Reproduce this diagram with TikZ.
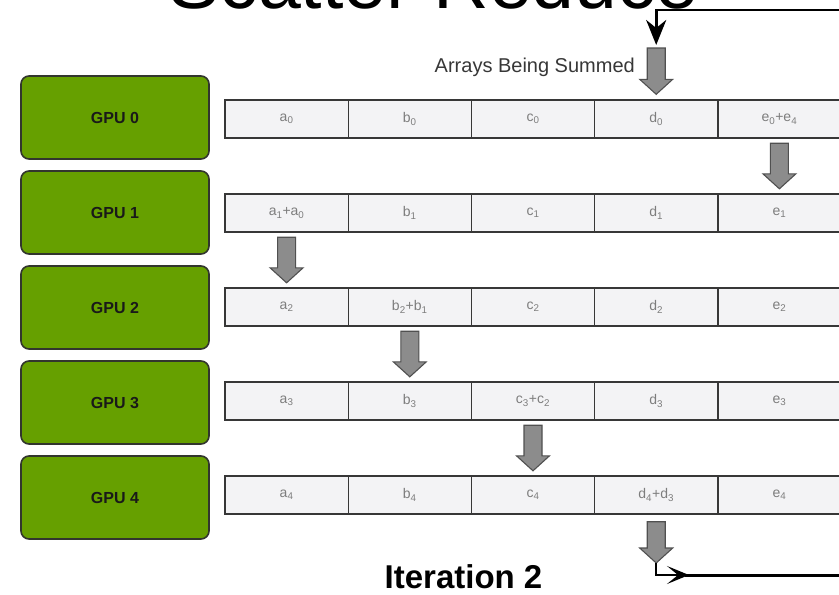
\documentclass[tikz,border=0pt]{standalone}
\usepackage{fontspec}
\setmainfont{Liberation Sans}
\usetikzlibrary{arrows.meta,calc}

\definecolor{gpugreen}{RGB}{102,160,0}
\definecolor{gpuline}{RGB}{50,54,46}
\definecolor{cellfill}{RGB}{243,243,245}
\definecolor{cellline}{RGB}{55,55,55}
\definecolor{celltext}{RGB}{125,125,125}
\definecolor{blockfill}{RGB}{140,140,140}
\definecolor{blockline}{RGB}{80,80,80}
\definecolor{labeltext}{RGB}{55,55,55}

% value with a subscript index
\newcommand\sv[2]{#1\textsubscript{#2}}

% grey block arrow pointing down, from the first point to the second
\newcommand\blockdown[2]{%
  \draw[blockarrow] let \p1=(#1), \p2=(#2) in
    (\x1-9pt,\y1) -- (\x1+9pt,\y1) -- (\x1+9pt,\y2+15pt) -- (\x1+16.5pt,\y2+15pt)
    -- (\x1,\y2) -- (\x1-16.5pt,\y2+15pt) -- (\x1-9pt,\y2+15pt) -- cycle;}

\begin{document}
\begin{tikzpicture}[x=1pt,y=-1pt,
  gpu/.style={draw=gpuline, fill=gpugreen, line width=1.6pt, rounded corners=8pt,
    minimum width=188pt, minimum height=83pt, inner sep=0pt,
    font=\bfseries\fontsize{16}{16}\selectfont, text=black!90},
  cell/.style={draw=cellline, fill=cellfill, line width=1.4pt,
    minimum width=123.2pt, minimum height=38pt, inner sep=0pt,
    font=\fontsize{14}{14}\selectfont, text=celltext},
  blockarrow/.style={draw=blockline, fill=blockfill, line width=1.1pt, line join=miter},
  feedline/.style={draw=black, line width=2.8pt},
]
\useasboundingbox (0,0) rectangle (839,595);

% title
\node[anchor=base west, inner sep=0pt, font=\fontsize{77}{80}\selectfont] (title) at (168,8) {Scatter Reduce};

% GPUs
\foreach \r in {0,...,4}
  \node[gpu] (g\r) at (115,117.5+95*\r) {GPU \r};

% arrays held by each GPU
\newcommand\arrayrow[6]{%
  \node[cell] (r#1c0) at (286.6,119+94*#1) {#2};
  \node[cell] (r#1c1) at (409.8,119+94*#1) {#3};
  \node[cell] (r#1c2) at (533.0,119+94*#1) {#4};
  \node[cell] (r#1c3) at (656.2,119+94*#1) {#5};
  \node[cell] (r#1c4) at (779.4,119+94*#1) {#6};}
\arrayrow{0}{\sv a0}{\sv b0}{\sv c0}{\sv d0}{\sv e0+\sv e4}
\arrayrow{1}{\sv a1+\sv a0}{\sv b1}{\sv c1}{\sv d1}{\sv e1}
\arrayrow{2}{\sv a2}{\sv b2+\sv b1}{\sv c2}{\sv d2}{\sv e2}
\arrayrow{3}{\sv a3}{\sv b3}{\sv c3+\sv c2}{\sv d3}{\sv e3}
\arrayrow{4}{\sv a4}{\sv b4}{\sv c4}{\sv d4+\sv d3}{\sv e4}

% label over the incoming arrow
\node[anchor=base east, inner sep=0pt, font=\fontsize{20}{20}\selectfont, text=labeltext]
  (summed) at (635,72) {Arrays Being Summed};

% reduction steps
\coordinate (sumtop) at (656.2,48);
\coordinate (sumbot) at (656.2,563);
\blockdown{sumtop}{$(r0c3.north)+(0,-5)$}
\blockdown{$(r0c4.south)+(0,4.5)$}{$(r1c4.north)+(0,-4.5)$}
\blockdown{$(r1c0.south)+(0,4.5)$}{$(r2c0.north)+(0,-4.5)$}
\blockdown{$(r2c1.south)+(0,4.5)$}{$(r3c1.north)+(0,-4.5)$}
\blockdown{$(r3c2.south)+(0,4.5)$}{$(r4c2.north)+(0,-4.5)$}
\blockdown{$(r4c3.south)+(0,7)$}{sumbot}

% feed from the previous iteration
\coordinate (feedin) at (845,10);
\coordinate (sumin) at (656.2,45);
\draw[feedline, -{Stealth[length=25pt,width=20pt,inset=8pt]}] (feedin) -| (sumin);

% hand-off to the next iteration
\coordinate (handoff) at (689,575);
\coordinate (feedout) at (845,575);
\draw[draw=black, line width=1.8pt, -{Stealth[length=22pt,width=18pt,inset=11pt]}] (sumbot) |- (handoff);
\draw[feedline, line width=3pt] ($(handoff)+(-4,0)$) -- (feedout);

% caption
\node[anchor=base, inner sep=0pt, font=\bfseries\fontsize{33}{33}\selectfont] (caption) at (463.5,588) {Iteration 2};
\end{tikzpicture}
\end{document}
